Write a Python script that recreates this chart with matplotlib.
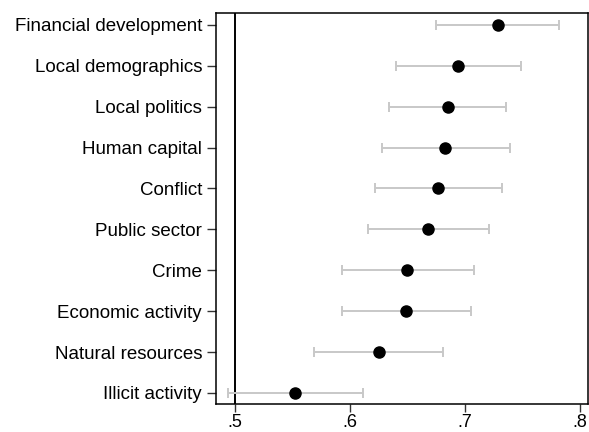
import matplotlib
matplotlib.use("Agg")
import matplotlib.pyplot as plt

# categories, bottom to top
labels = ["Illicit activity", "Natural resources", "Economic activity", "Crime",
          "Public sector", "Conflict", "Human capital", "Local politics",
          "Local demographics", "Financial development"]
est = [0.552, 0.625, 0.649, 0.650, 0.668, 0.677, 0.683, 0.685, 0.694, 0.729]
lo = [0.494, 0.569, 0.593, 0.593, 0.616, 0.622, 0.628, 0.634, 0.640, 0.675]
hi = [0.611, 0.681, 0.705, 0.708, 0.721, 0.732, 0.739, 0.736, 0.749, 0.782]
xticks = [0.5, 0.6, 0.7, 0.8]
xticklabels = [".5", ".6", ".7", ".8"]

plt.rcParams['font.family'] = ['Liberation Sans', 'DejaVu Sans']

fig = plt.figure(figsize=(5.89, 4.32), dpi=100)
ax = fig.add_axes([0.3667, 0.0648, 0.6313, 0.9052])

ypos = list(range(len(labels)))
err = [[e - l for e, l in zip(est, lo)], [h - e for e, h in zip(est, hi)]]
ax.errorbar(est, ypos, xerr=err, fmt='none', ecolor='#c8c8c8', elinewidth=1.4,
            capsize=3.8, capthick=1.4, zorder=2)
ax.plot(est, ypos, 'o', color='black', markersize=8, zorder=3)
ax.axvline(0.5, color='black', linewidth=1.4, zorder=1)

ax.set_xlim(0.4835, 0.807)
ax.set_ylim(-0.27, 9.29)
ax.set_yticks(ypos)
ax.set_yticklabels(labels, fontsize=13.5)
ax.set_xticks(xticks)
ax.set_xticklabels(xticklabels, fontsize=13)
ax.tick_params(length=6.5, width=1, color='#333333')
ax.tick_params(axis='y', pad=3.5)
ax.tick_params(axis='x', length=6, pad=1)
for s in ax.spines.values():
    s.set_linewidth(1.1)

fig.savefig("out.png", dpi=100)
